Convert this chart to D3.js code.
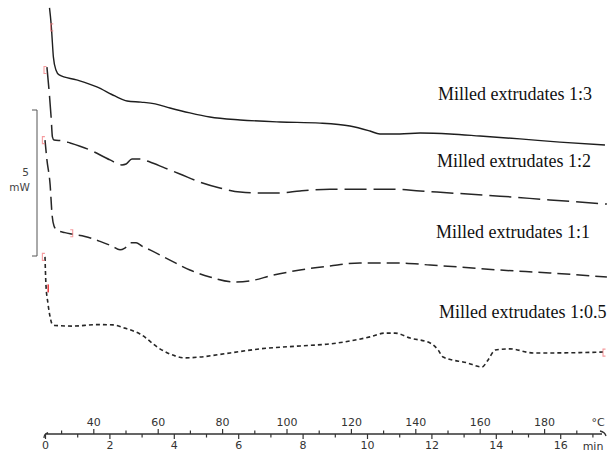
<!DOCTYPE html>
<html>
<head>
<meta charset="utf-8">
<script src="https://cdn.jsdelivr.net/npm/d3@7"></script>
<style>
  html, body { margin: 0; padding: 0; background: #fff; }
  svg { display: block; }
</style>
</head>
<body>
<svg id="chart" width="609" height="455"></svg>
<script>
// DSC heat-flow traces of milled extrudates (stacked, mW) against time (min).
// The run heats from 25 °C at 10 °C/min, so a temperature scale sits on the same axis.

const sampleNames = ["Milled extrudates 1:3", "Milled extrudates 1:2", "Milled extrudates 1:1", "Milled extrudates 1:0.5"];

const time13 = [0.14, 0.19, 0.21, 0.26, 0.34, 0.44, 0.98, 1.61, 2.17, 2.55, 2.98, 3.42, 3.88, 4.50, 5.12, 6.06, 7.30, 8.54, 9.47, 10.09, 10.40, 11.02, 11.65, 12.58, 13.51, 14.75, 15.99, 17.39];
const flow13 = [8.50, 7.95, 7.64, 6.82, 6.37, 6.20, 6.03, 5.79, 5.48, 5.31, 5.27, 5.21, 5.07, 4.90, 4.76, 4.66, 4.59, 4.55, 4.45, 4.28, 4.18, 4.18, 4.21, 4.18, 4.11, 4.01, 3.90, 3.80];

const time12 = [0.06, 0.12, 0.19, 0.23, 0.28, 0.56, 0.78, 1.40, 2.02, 2.39, 2.52, 2.70, 2.95, 3.26, 3.73, 4.19, 4.81, 5.43, 6.06, 6.68, 7.30, 7.92, 8.85, 9.78, 10.71, 11.65, 12.58, 14.13, 15.68, 17.45];
const flow12 = [6.47, 5.75, 4.76, 4.08, 3.97, 3.94, 3.87, 3.63, 3.29, 3.12, 3.15, 3.32, 3.32, 3.22, 3.01, 2.81, 2.53, 2.33, 2.19, 2.16, 2.16, 2.23, 2.29, 2.29, 2.29, 2.23, 2.16, 2.05, 1.92, 1.78];

const time11 = [0.00, 0.06, 0.16, 0.22, 0.28, 0.37, 0.62, 0.84, 1.24, 1.71, 2.08, 2.33, 2.48, 2.67, 2.83, 3.01, 3.26, 3.88, 4.50, 5.12, 5.90, 6.52, 6.99, 7.92, 8.85, 9.78, 10.40, 11.02, 11.96, 12.89, 14.13, 15.68, 17.45];
const flow11 = [3.97, 3.29, 2.43, 1.40, 1.03, 0.89, 0.80, 0.75, 0.67, 0.50, 0.34, 0.21, 0.27, 0.45, 0.45, 0.34, 0.21, -0.14, -0.48, -0.72, -0.89, -0.82, -0.68, -0.48, -0.34, -0.24, -0.24, -0.24, -0.31, -0.38, -0.48, -0.58, -0.72];

const time105 = [0.00, 0.03, 0.09, 0.16, 0.22, 0.31, 0.87, 1.61, 2.11, 2.48, 2.95, 3.57, 4.04, 4.35, 4.81, 5.75, 6.68, 7.92, 8.85, 9.47, 10.09, 10.56, 10.87, 11.34, 11.96, 12.21, 12.36, 13.11, 13.57, 13.76, 13.98, 14.44, 15.16, 15.68, 17.33];
const flow105 = [-0.03, -0.99, -1.61, -2.09, -2.33, -2.38, -2.40, -2.35, -2.36, -2.47, -2.67, -3.18, -3.42, -3.49, -3.46, -3.32, -3.18, -3.08, -3.01, -2.91, -2.77, -2.64, -2.64, -2.81, -2.98, -3.22, -3.46, -3.66, -3.80, -3.56, -3.22, -3.18, -3.32, -3.32, -3.29];

// integration-limit markers left on the traces: [time, heat flow, side]
const limitMarks = [
  [0.21, 7.83, "open"], [0.00, 6.37, "open"], [-0.05, 3.97, "open"],
  [0.83, 0.78, "close"], [-0.05, -0.03, "open"], [0.10, -1.11, "bar"], [17.36, -3.31, "open"]
];

const timeTicks = [0, 2, 4, 6, 8, 10, 12, 14, 16];
const timeMinorTicks = [1, 3, 5, 7, 9, 11, 13, 15, 17];
const tempTicks = [40, 60, 80, 100, 120, 140, 160, 180];
const tempMinorTicks = [30, 50, 70, 90, 110, 130, 150, 170, 190];
const startTempC = 25;
const heatingRate = 10;   // °C per min
const scaleBarMW = 5;

const svg = d3.select("#chart");
const axisY = 434;

const x = d3.scaleLinear().domain([0, 17.36]).range([45, 604]);
const y = d3.scaleLinear().domain([0, scaleBarMW]).range([256, 110]);
const xTemp = d3.scaleLinear()
  .domain(x.domain().map(t => startTempC + heatingRate * t))
  .range(x.range());

// traces
const traces = [
  { t: time13, v: flow13, dash: null, w: 1.4, color: "#1e1e1e" },
  { t: time12, v: flow12, dash: "22,7", w: 1.5, color: "#262626" },
  { t: time11, v: flow11, dash: "13,6", w: 1.5, color: "#262626" },
  { t: time105, v: flow105, dash: "4,3", w: 1.6, color: "#262626" }
];

const line = d3.line()
  .x(d => x(d[0]))
  .y(d => y(d[1]))
  .curve(d3.curveMonotoneX);

svg.append("g").selectAll("path")
  .data(traces)
  .join("path")
  .attr("d", s => line(d3.zip(s.t, s.v)))
  .attr("fill", "none")
  .attr("stroke", s => s.color)
  .attr("stroke-width", s => s.w)
  .attr("stroke-dasharray", s => s.dash)
  .attr("stroke-linecap", "butt")
  .attr("stroke-linejoin", "round");

// limit markers
svg.append("g").selectAll("path")
  .data(limitMarks)
  .join("path")
  .attr("d", m => {
    const px = x(m[0]), py = y(m[1]);
    if (m[2] === "bar") return `M${px},${py - 4}V${py + 4}`;
    if (m[2] === "close") return `M${px - 1.5},${py - 3.5}H${px + 1}V${py + 3.5}H${px - 1.5}`;
    return `M${px + 1.5},${py - 3.5}H${px - 1}V${py + 3.5}H${px + 1.5}`;
  })
  .attr("fill", "none")
  .attr("stroke", m => m[2] === "bar" ? "#e8353a" : "#f27a7d")
  .attr("stroke-opacity", m => m[2] === "bar" ? 0.95 : 0.75)
  .attr("stroke-width", m => m[2] === "bar" ? 1.6 : 1.1);

// sample labels
const labelPos = [[438, 100], [437, 167], [436, 238], [439, 318]];
svg.append("g").selectAll("text")
  .data(sampleNames)
  .join("text")
  .attr("x", (d, i) => labelPos[i][0])
  .attr("y", (d, i) => labelPos[i][1])
  .attr("font-family", "'Liberation Serif', 'Times New Roman', serif")
  .attr("font-size", 18)
  .attr("fill", "#111")
  .text(d => d);

// 5 mW scale bar
const bar = svg.append("g").attr("stroke", "#555").attr("stroke-width", 1).attr("fill", "none");
bar.append("path")
  .attr("d", `M32,${y(scaleBarMW)}H37V${y(0)}H32`);
svg.append("text").attr("x", 25.5).attr("y", 175.5)
  .attr("text-anchor", "middle").attr("font-family", "'DejaVu Sans', sans-serif")
  .attr("font-size", 10.5).attr("fill", "#444").text(scaleBarMW);
svg.append("text").attr("x", 19.5).attr("y", 190.5)
  .attr("text-anchor", "middle").attr("font-family", "'DejaVu Sans', sans-serif")
  .attr("font-size", 10.5).attr("fill", "#444").text("mW");

// combined time / temperature axis
const axisG = svg.append("g").attr("transform", `translate(0,${axisY})`);

const styleAxis = g => {
  g.select(".domain").remove();
  g.selectAll("line").attr("stroke", "#333").attr("stroke-width", 1.2);
  g.selectAll("text").attr("font-family", "'DejaVu Sans', sans-serif")
    .attr("font-size", 11).attr("fill", "#333");
};

axisG.append("g")
  .call(d3.axisBottom(x).tickValues(timeTicks).tickSize(5).tickPadding(2.5).tickFormat(d3.format("d")))
  .call(styleAxis);
axisG.append("g")
  .call(d3.axisBottom(x).tickValues(timeMinorTicks).tickSize(3.5).tickFormat(""))
  .call(styleAxis);
axisG.append("g")
  .call(d3.axisTop(xTemp).tickValues(tempTicks).tickSize(5).tickPadding(3.5).tickFormat(d3.format("d")))
  .call(styleAxis);
axisG.append("g")
  .call(d3.axisTop(xTemp).tickValues(tempMinorTicks).tickSize(3.5).tickFormat(""))
  .call(styleAxis);

// axis line with its end hooks
axisG.append("path")
  .attr("d", `M${x(0) - 1},4 Q${x(0) - 1},0 ${x(0) + 3},-1.5 M${x(0)},0 H${x.range()[1] - 2} M${x.range()[1] - 4},-3 Q${x.range()[1] + 1},-2 ${x.range()[1] + 2},2`)
  .attr("fill", "none").attr("stroke", "#333").attr("stroke-width", 1.3);

// unit labels
axisG.append("text").attr("x", 598).attr("y", -8.5).attr("text-anchor", "middle")
  .attr("font-family", "'DejaVu Sans', sans-serif").attr("font-size", 11).attr("fill", "#333").text("°C");
axisG.append("text").attr("x", 593).attr("y", 15.5).attr("text-anchor", "middle")
  .attr("font-family", "'DejaVu Sans', sans-serif").attr("font-size", 11).attr("fill", "#333").text("min");
</script>
</body>
</html>
